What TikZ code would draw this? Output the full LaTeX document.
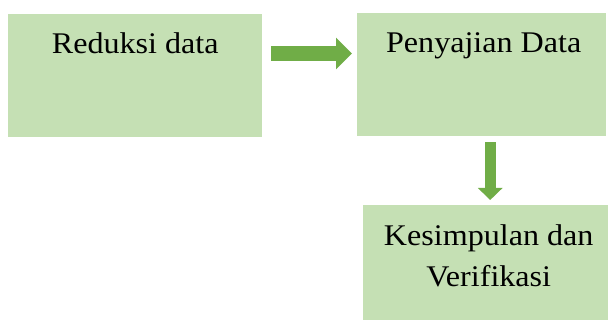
\documentclass[tikz,border=0pt]{standalone}
\usepackage{fontspec}
\setmainfont{Liberation Serif}[FakeStretch=1.07]
\usetikzlibrary{arrows.meta,calc}
\definecolor{boxfill}{HTML}{C5E0B4}
\definecolor{arrowgreen}{HTML}{70AD47}
\tikzset{
  box/.style={rectangle, fill=boxfill, draw=none, inner sep=0pt, anchor=north west},
  boxtext/.style={anchor=base, align=center, font=\fontsize{30}{41}\selectfont},
  blockarrow/.style={draw=arrowgreen, line cap=butt},
}
\begin{document}
\begin{tikzpicture}[x=1pt,y=1pt]
\useasboundingbox (0,0) rectangle (608,-320);
\node[box, minimum width=254pt, minimum height=123pt] (b1) at (8,-14) {};
\node[box, minimum width=249pt, minimum height=123pt] (b2) at (357,-13) {};
\node[box, minimum width=245pt, minimum height=115pt] (b3) at (363,-205) {};
\node[boxtext] (t1) at ([yshift=-40pt]b1.north) {Reduksi data};
\node[boxtext] (t2) at ([xshift=2pt,yshift=-40pt]b2.north) {Penyajian Data};
\node[boxtext] (t3) at ([xshift=3pt,yshift=-82pt]b3.north) {Kesimpulan dan\\Verifikasi};
\coordinate (ra) at (0,-53.5);
\coordinate (ra1) at ($(b1.east |- ra)+(9pt,0)$);
\coordinate (ra2) at ($(b2.west |- ra)+(-5pt,0)$);
\draw[blockarrow, line width=15pt, -{Triangle[length=16pt,width=31pt]}] (ra1) -- (ra2);
\coordinate (da1) at ($(b2.south)+(8.5pt,-6pt)$);
\coordinate (da2) at ($(da1 |- b3.north)+(0,5pt)$);
\draw[blockarrow, line width=11pt, -{Triangle[length=12pt,width=24pt]}] (da1) -- (da2);
\end{tikzpicture}
\end{document}
